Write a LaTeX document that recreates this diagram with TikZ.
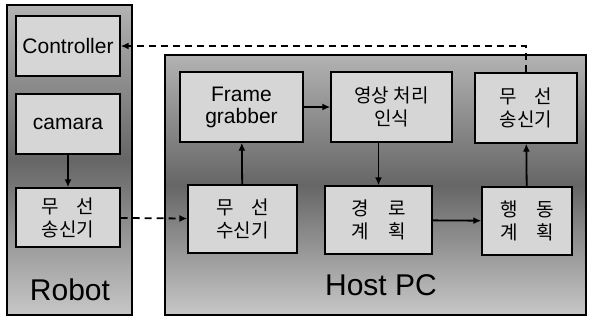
\documentclass[tikz,border=0pt]{standalone}
\usepackage{fontspec}
\setmainfont{Liberation Sans}
\newfontfamily\kr{Noto Sans CJK KR}
\usetikzlibrary{arrows.meta}
\begin{document}
\begin{tikzpicture}[x=1pt,y=-1pt,
    panel/.style={draw,line width=2pt,top color=black!30,bottom color=black!22,middle color=black!60},
    unit/.style={draw,line width=1.4pt,fill=black!16,inner sep=0pt,align=center,font=\fontsize{21}{22}\selectfont},
    hunit/.style={unit,font=\kr\fontsize{19}{23}\selectfont},
    link/.style={line width=1.8pt,-{Latex[length=8pt,width=7pt]}},
    radio/.style={link,dash pattern=on 7pt off 5pt}]
    \useasboundingbox (0,0) rectangle (591,320);
    % two panels
    \shadedraw[panel] (7,5) rectangle (132,315);
    \shadedraw[panel] (165,55) rectangle (586,315);
    \node[font=\fontsize{30}{32}\selectfont] (robotname) at (70,290) {Robot};
    \node[font=\fontsize{30}{32}\selectfont] (hostname) at (381,285) {Host PC};
    % robot side
    \node[unit,minimum width=104pt,minimum height=60pt] (ctrl) at (68,46) {Controller};
    \node[unit,minimum width=104pt,minimum height=60pt] (cam) at (68,124) {camara};
    \node[hunit,minimum width=104pt,minimum height=59pt] (rtx) at (68,217.5) {무\hspace{0.9em}선\\송신기};
    % host side
    \node[unit,minimum width=123pt,minimum height=70pt] (grab) at (241.5,107) {Frame\\grabber};
    \node[hunit,minimum width=121pt,minimum height=70pt] (vision) at (391.5,107) {영상 처리\\인식};
    \node[hunit,minimum width=102pt,minimum height=70pt] (htx) at (526,108) {무\hspace{0.9em}선\\송신기};
    \node[hunit,minimum width=109pt,minimum height=68pt] (rx) at (242.5,219) {무\hspace{0.9em}선\\수신기};
    \node[hunit,minimum width=107pt,minimum height=68pt] (route) at (378.5,220) {경\hspace{1em}로\\계\hspace{1em}획};
    \node[hunit,minimum width=90pt,minimum height=68pt] (act) at (527,221) {행\hspace{1em}동\\계\hspace{1em}획};
    % links
    \draw[link] (cam) -- (rtx);
    \draw[radio] (rtx) -- (rx);
    \draw[link] (rx) -- (grab);
    \draw[link] (grab) -- (vision);
    \draw[link] (vision.south -| route.north) -- (route.north);
    \draw[link] (route) -- (act);
    \draw[link] (act) -- (htx);
    \draw[radio] (htx.north) |- (ctrl.east);
\end{tikzpicture}
\end{document}
